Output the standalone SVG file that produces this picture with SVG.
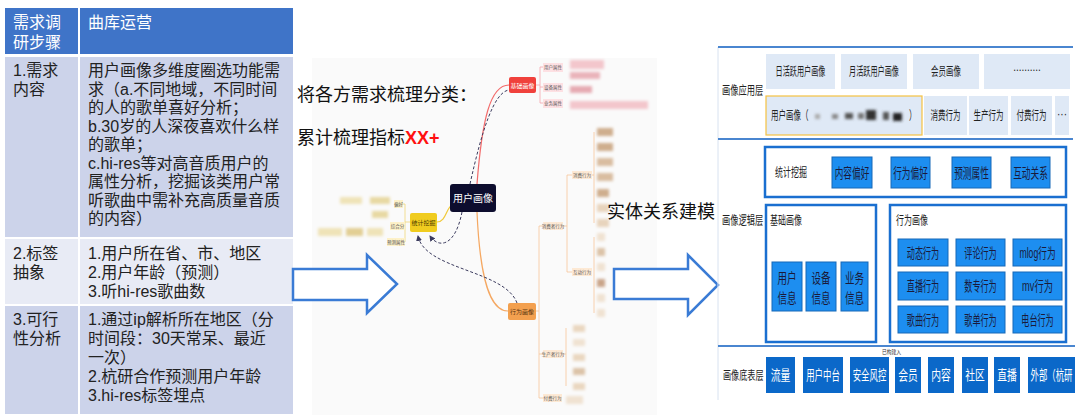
<svg xmlns="http://www.w3.org/2000/svg" width="1080" height="420" viewBox="0 0 1080 420">
<defs>
<style>
.cjk{font-family:"Liberation Sans","Noto Sans CJK SC",sans-serif}
.tb{font-family:"Liberation Sans","Noto Sans CJK SC",sans-serif;font-size:16px;fill:#222}
.th{font-family:"Liberation Sans","Noto Sans CJK SC",sans-serif;font-size:16px;fill:#fff}
.big{font-family:"Liberation Sans","Noto Sans CJK SC",sans-serif;font-size:18px;fill:#111}
.lay{font-family:"Liberation Sans","Noto Sans CJK SC",sans-serif;font-size:12.5px;fill:#222}
.lt{font-family:"Liberation Sans","Noto Sans CJK SC",sans-serif;font-size:12.5px;fill:#222;text-anchor:middle}
.bt{font-family:"Liberation Sans","Noto Sans CJK SC",sans-serif;font-size:14px;fill:#1a1a3a;text-anchor:middle}
.wt{font-family:"Liberation Sans","Noto Sans CJK SC",sans-serif;font-size:14px;fill:#fff;text-anchor:middle}
.app{fill:#dfe9f6}
.bb{fill:#1d8ef0;stroke:#1768b8;stroke-width:1}
.db{fill:#0b68c9}
.frame{fill:#fff;stroke:#1a6fd0;stroke-width:2.5}
.mm{font-family:"Liberation Sans","Noto Sans CJK SC",sans-serif;font-size:4.5px;fill:#555;text-anchor:middle}
.blk{fill:#fff;stroke:#3a7bd5;stroke-width:2.5}
.dash{fill:none;stroke:#3b3b5e;stroke-width:1;stroke-dasharray:3,2}
</style>
<filter id="bl" x="-20%" y="-50%" width="140%" height="200%"><feGaussianBlur stdDeviation="1.5"/></filter>
<marker id="ah" markerWidth="6" markerHeight="6" refX="5" refY="3" orient="auto" markerUnits="userSpaceOnUse"><path d="M0,0 L6,3 L0,6 z" fill="#3b3b5e"/></marker>
</defs>
<rect width="1080" height="420" fill="#fff"/>

<!-- Table -->
<g id="table">
<rect x="5" y="8" width="288" height="46" fill="#3f74c8"/>
<rect x="5" y="57" width="288" height="180" fill="#ccd3ea"/>
<rect x="5" y="239" width="288" height="65" fill="#e8ebf5"/>
<rect x="5" y="306" width="288" height="108" fill="#ccd3ea"/>
<line x1="79" y1="8" x2="79" y2="414" stroke="#fff" stroke-width="2"/>
<text class="th" x="13" y="28">需求调</text>
<text class="th" x="13" y="48">研步骤</text>
<text class="th" x="88" y="28">曲库运营</text>
<text class="tb" x="13" y="76">1.需求</text>
<text class="tb" x="13" y="94.5">内容</text>
<text class="tb" x="88" y="76">用户画像多维度圈选功能需</text>
<text class="tb" x="88" y="94.5">求（a.不同地域，不同时间</text>
<text class="tb" x="88" y="113">的人的歌单喜好分析；</text>
<text class="tb" x="88" y="131.5">b.30岁的人深夜喜欢什么样</text>
<text class="tb" x="88" y="150">的歌单；</text>
<text class="tb" x="88" y="168.5">c.hi-res等对高音质用户的</text>
<text class="tb" x="88" y="187">属性分析，挖掘该类用户常</text>
<text class="tb" x="88" y="205.5">听歌曲中需补充高质量音质</text>
<text class="tb" x="88" y="224">的内容）</text>
<text class="tb" x="13" y="259">2.标签</text>
<text class="tb" x="13" y="278">抽象</text>
<text class="tb" x="88" y="259">1.用户所在省、市、地区</text>
<text class="tb" x="88" y="278">2.用户年龄（预测）</text>
<text class="tb" x="88" y="297">3.听hi-res歌曲数</text>
<text class="tb" x="13" y="325">3.可行</text>
<text class="tb" x="13" y="344">性分析</text>
<text class="tb" x="88" y="325">1.通过ip解析所在地区（分</text>
<text class="tb" x="88" y="344">时间段：30天常呆、最近</text>
<text class="tb" x="88" y="363">一次）</text>
<text class="tb" x="88" y="382">2.杭研合作预测用户年龄</text>
<text class="tb" x="88" y="401">3.hi-res标签埋点</text>
</g>

<!-- Mind map canvas -->
<rect x="312" y="58" width="345" height="357" fill="#fafafa"/>

<g id="blurred" filter="url(#bl)">
<rect x="340" y="197" width="22" height="7" fill="#efe3b8"/>
<rect x="370" y="197" width="20" height="7" fill="#e8d9a3"/>
<rect x="372" y="211" width="16" height="7" fill="#e8d9a3"/>
<rect x="318" y="228" width="24" height="8" fill="#efe3b8"/>
<rect x="346" y="228" width="17" height="8" fill="#e2cf94"/>
<rect x="367" y="228" width="16" height="8" fill="#efe3b8"/>
<rect x="570" y="60" width="34" height="9" fill="#f3c6cc"/>
<rect x="570" y="72" width="30" height="7" fill="#eab3ba"/>
<rect x="570" y="86" width="22" height="7" fill="#e6aab2"/>
<rect x="570" y="101" width="78" height="8" fill="#f3c6cc"/>
<rect x="597" y="128" width="16" height="8" fill="#cfae8e"/>
<rect x="597" y="143" width="16" height="8" fill="#cfae8e"/>
<rect x="597" y="158" width="16" height="8" fill="#d9bda0"/>
<rect x="597" y="173" width="16" height="8" fill="#d9bda0"/>
<rect x="597" y="189" width="12" height="8" fill="#cfae8e"/>
<rect x="597" y="204" width="12" height="8" fill="#e8d4bd"/>
<rect x="597" y="219" width="12" height="8" fill="#e8d4bd"/>
<rect x="597" y="233" width="8" height="8" fill="#f0e2d2"/>
<rect x="597" y="248" width="8" height="8" fill="#dcc3a8"/>
<rect x="597" y="263" width="8" height="8" fill="#f0e2d2"/>
<rect x="597" y="279" width="8" height="8" fill="#c9a489"/>
<rect x="597" y="294" width="8" height="8" fill="#f0e2d2"/>
<rect x="597" y="309" width="8" height="8" fill="#f0e2d2"/>
<rect x="573" y="325" width="12" height="7" fill="#ead7c0"/>
<rect x="573" y="339" width="12" height="7" fill="#f0e2d2"/>
<rect x="573" y="354" width="12" height="7" fill="#ead7c0"/>
<rect x="573" y="368" width="12" height="7" fill="#dcc3a8"/>
<rect x="573" y="383" width="12" height="7" fill="#ead7c0"/>
<rect x="566" y="396" width="17" height="8" fill="#f0e2d2"/>
</g>

<g id="mm-connectors" fill="none">
<path d="M477,184 C482,120 490,85 509,85" stroke="#f26b6b" stroke-width="1.2"/>
<path class="dash" d="M470,184 C482,130 494,92 509,90"/>
<path d="M477,212 C480,280 490,311 508,311" stroke="#f5a862" stroke-width="1.2"/>
<path class="dash" d="M517,303 C505,270 425,270 418,236" marker-end="url(#ah)"/>
<path class="dash" d="M462,212 C455,248 438,248 430,236" marker-end="url(#ah)"/>
<path d="M437,222 C446,222 446,208 452,205" stroke="#f0c93a" stroke-width="1.2"/>
<path d="M410,222 L405,222 M405,204 L405,242 M405,204 L403,204" stroke="#f0d77a" stroke-width="0.8"/>
<path d="M536,85 L540,85 M540,67 L540,103 M540,67 L543,67 M540,87 L543,87 M540,103 L543,103" stroke="#f5a6ad" stroke-width="0.8"/>
<path d="M536,311 L539,311 M539,226 L539,398 M539,226 L543,226 M539,354 L543,354 M539,398 L543,398" stroke="#f7c59a" stroke-width="0.8"/>
<path d="M563,226 L567,226 M567,175 L567,272 M567,175 L572,175 M567,272 L572,272" stroke="#f7c59a" stroke-width="0.8"/>
<path d="M592,175 L594,175 M594,132 L594,223 M594,237 L594,313" stroke="#f7c59a" stroke-width="0.8"/>
<path d="M563,354 L566,354 M566,328 L566,386" stroke="#f7c59a" stroke-width="0.8"/>
</g>

<g id="n-user-portrait">
<rect x="450" y="184" width="46" height="28" rx="3" fill="#0d0d2e"/>
<text class="cjk" x="473" y="202" font-size="10" fill="#fff" text-anchor="middle">用户画像</text>
</g>
<g id="n-basic">
<rect x="509" y="77" width="27" height="16" rx="2" fill="#f0413c"/>
<text class="cjk" x="522.5" y="87.5" font-size="6" fill="#fff" text-anchor="middle">基础画像</text>
</g>
<g id="n-behavior">
<rect x="508" y="303" width="28" height="17" rx="2" fill="#f3a04f"/>
<text class="cjk" x="522" y="313.5" font-size="6" fill="#5a3510" text-anchor="middle">行为画像</text>
</g>
<g id="n-stat">
<rect x="410" y="213" width="27" height="19" rx="2" fill="#f0cc1f"/>
<text class="cjk" x="423.5" y="224.5" font-size="6" fill="#4a3a00" text-anchor="middle">统计挖掘</text>
</g>
<g id="mm-small">
<rect x="394" y="200" width="9" height="8" fill="#fdf1c8"/><text class="mm" x="398.5" y="205.5">偏好</text>
<rect x="390" y="222" width="15" height="8" fill="#fdf1c8"/><text class="mm" x="397.5" y="227.5">综合分</text>
<rect x="387" y="238" width="18" height="8" fill="#fdf1c8"/><text class="mm" x="396" y="243.5">预测属性</text>
<rect x="543" y="63" width="20" height="9" fill="#fde0e3"/><text class="mm" x="553" y="69">用户属性</text>
<rect x="543" y="83" width="20" height="9" fill="#fde0e3"/><text class="mm" x="553" y="89">设备属性</text>
<rect x="543" y="99" width="20" height="9" fill="#fde0e3"/><text class="mm" x="553" y="105">业务属性</text>
<rect x="543" y="222" width="20" height="8" fill="#fde9d4"/><text class="mm" x="553" y="227.5">消费者行为</text>
<rect x="572" y="171" width="20" height="8" fill="#fde9d4"/><text class="mm" x="582" y="176.5">消费行为</text>
<rect x="572" y="268" width="20" height="8" fill="#fde9d4"/><text class="mm" x="582" y="273.5">互动行为</text>
<rect x="543" y="350" width="20" height="8" fill="#fde9d4"/><text class="mm" x="553" y="355.5">生产者行为</text>
<rect x="543" y="394" width="19" height="8" fill="#fde9d4"/><text class="mm" x="552.5" y="399.5">付费行为</text>
</g>

<text class="big" x="297" y="101">将各方需求梳理分类：</text>
<text class="big" x="297" y="144">累计梳理指标<tspan fill="#ff1010" font-weight="bold">XX+</tspan></text>
<text class="big" x="607" y="218">实体关系建模</text>

<!-- Block arrows -->
<g id="arrows">
<path class="blk" d="M293,269 L367,269 L367,255 L397,284 L367,313 L367,300 L293,300 Z"/>
<path class="blk" d="M614,269 L688,269 L688,255 L718,285 L688,315 L688,299 L614,299 Z"/>
</g>

<!-- Right architecture -->
<g id="arch">
<line x1="718" y1="47" x2="718" y2="400" stroke="#d8e2f0" stroke-width="1"/>
<line x1="718" y1="47" x2="1073" y2="47" stroke="#4a86d0" stroke-width="2"/>
<line x1="718" y1="139" x2="1073" y2="139" stroke="#4a86d0" stroke-width="2"/>
<line x1="718" y1="346" x2="1075" y2="346" stroke="#4a86d0" stroke-width="2"/>
<text class="lay" transform="translate(722,95) scale(0.66,1)">画像应用层</text>
<text class="lay" transform="translate(722,225) scale(0.66,1)">画像逻辑层</text>
<text class="lay" transform="translate(723,380) scale(0.65,1)">画像底表层</text>
</g>

<g id="app-layer">
<rect class="app" x="766" y="54" width="69" height="35"/><text class="lt" transform="translate(800.5,76) scale(0.57,1)">日活跃用户画像</text>
<rect class="app" x="841" y="54" width="66" height="35"/><text class="lt" transform="translate(874,76) scale(0.57,1)">月活跃用户画像</text>
<rect class="app" x="913" y="54" width="66" height="35"/><text class="lt" transform="translate(946,76) scale(0.6,1)">会员画像</text>
<rect class="app" x="984" y="54" width="86" height="35"/><text class="lt" transform="translate(1027,71) scale(0.8,1)">..........</text>
<rect class="app" x="766" y="96" width="156" height="39" stroke="#f5c242" stroke-width="1.2"/>
<text class="lay" transform="translate(771,120) scale(0.6,1)">用户画像（</text>
<g filter="url(#bl)" fill="#555">
<rect x="815" y="114" width="5" height="5" fill="#aaa"/><rect x="832" y="114" width="6" height="5" fill="#888"/><rect x="845" y="113" width="8" height="6"/><rect x="858" y="113" width="6" height="6" fill="#777"/><rect x="866" y="110" width="10" height="10" fill="#333"/><rect x="883" y="112" width="6" height="8"/><rect x="893" y="113" width="9" height="8" fill="#222"/>
</g>
<text class="lay" transform="translate(909,120) scale(0.6,1)">）</text>
<rect class="app" x="924" y="96" width="43" height="39"/><text class="lt" transform="translate(945.5,120) scale(0.6,1)">消费行为</text>
<rect class="app" x="969" y="96" width="39" height="39"/><text class="lt" transform="translate(988.5,120) scale(0.6,1)">生产行为</text>
<rect class="app" x="1011" y="96" width="41" height="39"/><text class="lt" transform="translate(1031.5,120) scale(0.6,1)">付费行为</text>
<rect class="app" x="1055" y="96" width="14" height="39"/><text class="lt" transform="translate(1062,118) scale(0.8,1)">···</text>
</g>

<g id="stat-mining">
<rect class="frame" x="765" y="147" width="301" height="50"/>
<text class="lay" transform="translate(775,177) scale(0.64,1)">统计挖掘</text>
<rect class="bb" x="832" y="157" width="40" height="31"/><text class="bt" transform="translate(852,177.5) scale(0.62,1)">内容偏好</text>
<rect class="bb" x="891" y="157" width="39" height="31"/><text class="bt" transform="translate(910.5,177.5) scale(0.62,1)">行为偏好</text>
<rect class="bb" x="952" y="157" width="39" height="31"/><text class="bt" transform="translate(971.5,177.5) scale(0.62,1)">预测属性</text>
<rect class="bb" x="1011" y="157" width="39" height="31"/><text class="bt" transform="translate(1030.5,177.5) scale(0.62,1)">互动关系</text>
</g>

<g id="basic-portrait">
<rect class="frame" x="766" y="205" width="110" height="137" stroke-width="2"/>
<text class="lay" transform="translate(770,225) scale(0.64,1)">基础画像</text>
<rect class="bb" x="772" y="262" width="30" height="49"/><text class="bt" transform="translate(787,283) scale(0.68,1)">用户</text><text class="bt" transform="translate(787,303) scale(0.68,1)">信息</text>
<rect class="bb" x="806" y="262" width="30" height="49"/><text class="bt" transform="translate(821,283) scale(0.68,1)">设备</text><text class="bt" transform="translate(821,303) scale(0.68,1)">信息</text>
<rect class="bb" x="841" y="262" width="27" height="49"/><text class="bt" transform="translate(854.5,283) scale(0.68,1)">业务</text><text class="bt" transform="translate(854.5,303) scale(0.68,1)">信息</text>
</g>

<g id="behavior-portrait">
<rect class="frame" x="890" y="205" width="176" height="137" stroke-width="2"/>
<text class="lay" transform="translate(896,225) scale(0.64,1)">行为画像</text>
<rect class="bb" x="898" y="239" width="50" height="27"/><text class="bt" transform="translate(923,257.5) scale(0.58,1)">动态行为</text>
<rect class="bb" x="956" y="239" width="49" height="27"/><text class="bt" transform="translate(980.5,257.5) scale(0.58,1)">评论行为</text>
<rect class="bb" x="1013" y="239" width="49" height="27"/><text class="bt" transform="translate(1037.5,257.5) scale(0.62,1)">mlog行为</text>
<rect class="bb" x="898" y="272" width="50" height="28"/><text class="bt" transform="translate(923,291) scale(0.58,1)">直播行为</text>
<rect class="bb" x="956" y="272" width="49" height="28"/><text class="bt" transform="translate(980.5,291) scale(0.58,1)">数专行为</text>
<rect class="bb" x="1013" y="272" width="49" height="28"/><text class="bt" transform="translate(1037.5,291) scale(0.66,1)">mv行为</text>
<rect class="bb" x="898" y="306" width="50" height="27"/><text class="bt" transform="translate(923,324.5) scale(0.58,1)">歌曲行为</text>
<rect class="bb" x="956" y="306" width="49" height="27"/><text class="bt" transform="translate(980.5,324.5) scale(0.58,1)">歌单行为</text>
<rect class="bb" x="1013" y="306" width="49" height="27"/><text class="bt" transform="translate(1037.5,324.5) scale(0.58,1)">电台行为</text>
</g>

<g id="base-layer">
<text class="cjk" transform="translate(882,354) scale(0.8,1)" font-size="6" fill="#333">已构建入</text>
<rect class="db" x="766" y="357" width="29" height="36"/><text class="wt" transform="translate(780.5,380) scale(0.7,1)">流量</text>
<rect class="db" x="803" y="357" width="40" height="36"/><text class="wt" transform="translate(823,380) scale(0.6,1)">用户中台</text>
<rect class="db" x="850" y="357" width="39" height="36"/><text class="wt" transform="translate(869.5,380) scale(0.6,1)">安全风控</text>
<rect class="db" x="895" y="357" width="26" height="36"/><text class="wt" transform="translate(908,380) scale(0.7,1)">会员</text>
<rect class="db" x="928" y="357" width="26" height="36"/><text class="wt" transform="translate(941,380) scale(0.7,1)">内容</text>
<rect class="db" x="962" y="357" width="26" height="36"/><text class="wt" transform="translate(975,380) scale(0.7,1)">社区</text>
<rect class="db" x="994" y="357" width="26" height="36"/><text class="wt" transform="translate(1007,380) scale(0.7,1)">直播</text>
<rect class="db" x="1028" y="357" width="47" height="36"/><text class="wt" transform="translate(1051.5,380) scale(0.6,1)">外部（杭研</text>
</g>
</svg>
